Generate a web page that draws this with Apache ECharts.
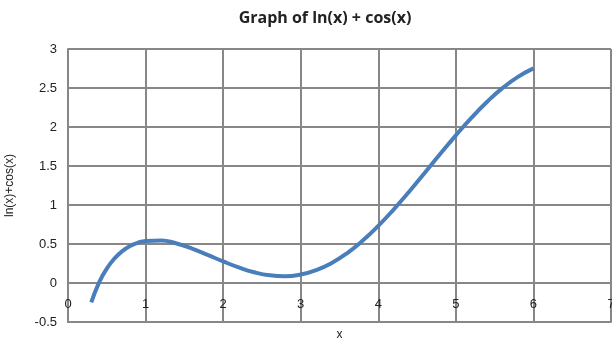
<!DOCTYPE html>
<html>
<head>
<meta charset="utf-8">
<script src="https://cdn.jsdelivr.net/npm/echarts@6/dist/echarts.min.js"></script>
<style>
html,body{margin:0;padding:0;background:#fff;}
#c{width:612px;height:341px;}
</style>
</head>
<body>
<div id="c"></div>
<script>
var titleText = 'Graph of ln(x) + cos(x)';
var xName = 'x';
var yName = 'ln(x)+cos(x)';
var xValues = [0.3, 0.4, 0.5, 0.6, 0.7, 0.8, 0.9, 1.0, 1.2, 1.4, 1.6, 1.8, 2.0, 2.2, 2.4, 2.6, 2.8, 3.0, 3.2, 3.4, 3.6, 3.8, 4.0, 4.2, 4.4, 4.6, 4.8, 5.0, 5.2, 5.4, 5.6, 5.8, 6.0];
var yValues = [-0.249, 0.005, 0.184, 0.315, 0.408, 0.474, 0.516, 0.540, 0.545, 0.506, 0.441, 0.361, 0.277, 0.200, 0.138, 0.099, 0.087, 0.109, 0.165, 0.257, 0.384, 0.544, 0.733, 0.945, 1.174, 1.414, 1.656, 1.893, 2.117, 2.321, 2.498, 2.643, 2.752];

var data = xValues.map(function (x, i) { return [x, yValues[i]]; });
var gridColor = '#878787';
var fontFam = '"Liberation Sans", Arial, sans-serif';

var chart = echarts.init(document.getElementById('c'));
chart.setOption({
  animation: false,
  title: {
    text: titleText,
    left: 320, top: 5, textAlign: 'center',
    textStyle: { fontFamily: '"Open Sans", sans-serif', fontWeight: 'bold', fontSize: 16, color: '#222' }
  },
  grid: { left: 68, right: 1, top: 49, bottom: 19, containLabel: false, outerBoundsMode: 'none' },
  xAxis: {
    type: 'value', min: 0, max: 7, interval: 1,
    name: xName, nameLocation: 'middle', nameGap: 7,
    nameTextStyle: { fontFamily: fontFam, fontSize: 12, color: '#222' },
    axisLine: { show: true, onZero: false, lineStyle: { color: gridColor, width: 2 } },
    axisTick: { show: false },
    axisLabel: { margin: -24, fontFamily: fontFam, fontSize: 13, color: '#222' },
    splitLine: { show: true, lineStyle: { color: gridColor, width: 2 } }
  },
  yAxis: {
    type: 'value', min: -0.5, max: 3, interval: 0.5,
    name: yName, nameLocation: 'middle', nameGap: 52, nameRotate: 90,
    nameTextStyle: { fontFamily: fontFam, fontSize: 12, color: '#222' },
    axisLine: { show: true, lineStyle: { color: gridColor, width: 2 } },
    axisTick: { show: false },
    axisLabel: { margin: 11, fontFamily: fontFam, fontSize: 13, color: '#222' },
    splitLine: { show: true, lineStyle: { color: gridColor, width: 2 } }
  },
  series: [{
    type: 'line', data: data, smooth: true, showSymbol: false,
    lineStyle: { color: '#4a7ebb', width: 4 },
    itemStyle: { color: '#4a7ebb' }
  }]
});
</script>
</body>
</html>
